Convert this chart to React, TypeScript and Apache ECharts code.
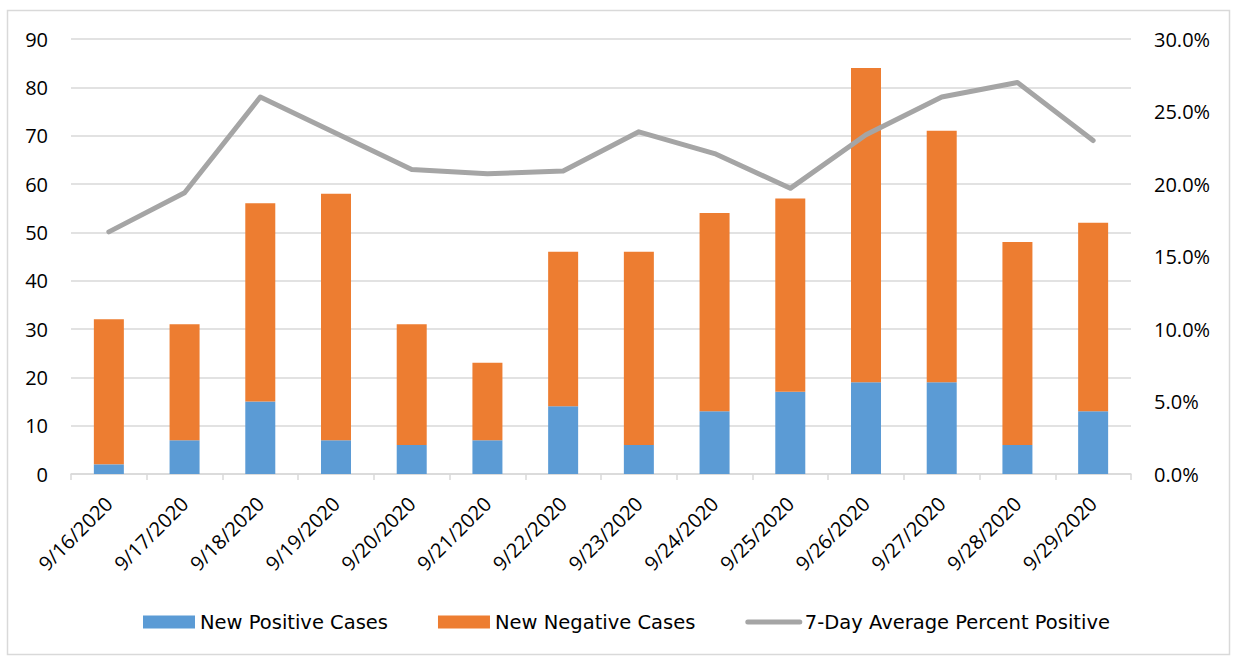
import React, { useEffect, useRef } from "react";
import * as echarts from "echarts";

const dates = ["9/16/2020","9/17/2020","9/18/2020","9/19/2020","9/20/2020","9/21/2020","9/22/2020","9/23/2020","9/24/2020","9/25/2020","9/26/2020","9/27/2020","9/28/2020","9/29/2020"];
const newPositive = [2, 7, 15, 7, 6, 7, 14, 6, 13, 17, 19, 19, 6, 13];
const newNegative = [30, 24, 41, 51, 25, 16, 32, 40, 41, 40, 65, 52, 42, 39];
const avgPercentPositive = [16.7, 19.4, 26.0, 23.5, 21.0, 20.7, 20.9, 23.6, 22.1, 19.7, 23.4, 26.0, 27.0, 23.0];

const FONT = "'Open Sans', 'Noto Sans', sans-serif";
const LEGEND_FONT = "'DejaVu Sans', 'Open Sans', sans-serif";

export default function App() {
  const ref = useRef<HTMLDivElement>(null);
  useEffect(() => {
    const chart = echarts.init(ref.current!, null, { renderer: "svg" });
    chart.setOption({
      animation: false,
      backgroundColor: "#ffffff",
      textStyle: { fontFamily: FONT },
      graphic: [
        {
          type: "rect",
          shape: { x: 7.5, y: 10.5, width: 1222, height: 644 },
          style: { fill: "none", stroke: "#d9d9d9", lineWidth: 1.5 },
          silent: true,
        },
      ],
      grid: { left: 71, right: 102, top: 39, bottom: 184, containLabel: false },
      legend: {
        bottom: 21,
        left: 138,
        itemGap: 50,
        itemWidth: 52,
        itemHeight: 13,
        textStyle: { fontSize: 19.5, color: "#000", fontFamily: LEGEND_FONT },
        data: [
          { name: "New Positive Cases", icon: "rect" },
          { name: "New Negative Cases", icon: "rect" },
          {
            name: "7-Day Average Percent Positive",
            itemStyle: { opacity: 0 },
            lineStyle: { color: "#A5A5A5", width: 5, cap: "round" },
          },
        ],
      },
      xAxis: {
        type: "category",
        data: dates,
        boundaryGap: true,
        axisLine: { lineStyle: { color: "#d9d9d9", width: 1.5 } },
        axisTick: { show: true, length: 6, lineStyle: { color: "#d9d9d9", width: 1.5 } },
        axisLabel: { rotate: 45, fontSize: 20, color: "#000", margin: 26, fontFamily: FONT },
      },
      yAxis: [
        {
          type: "value",
          min: 0,
          max: 90,
          interval: 10,
          axisLine: { show: false },
          axisTick: { show: false },
          splitLine: { lineStyle: { color: "#d9d9d9", width: 1.5 } },
          axisLabel: { fontSize: 20, color: "#000", margin: 23, fontFamily: FONT },
        },
        {
          type: "value",
          min: 0,
          max: 30,
          interval: 5,
          position: "right",
          axisLine: { show: false },
          axisTick: { show: false },
          splitLine: { show: false },
          axisLabel: {
            fontSize: 20,
            color: "#000",
            margin: 23,
            fontFamily: FONT,
            formatter: (v: number) => v.toFixed(1) + "%",
          },
        },
      ],
      series: [
        {
          name: "New Positive Cases",
          type: "bar",
          stack: "cases",
          barWidth: 30,
          data: newPositive,
          itemStyle: { color: "#5B9BD5" },
        },
        {
          name: "New Negative Cases",
          type: "bar",
          stack: "cases",
          barWidth: 30,
          data: newNegative,
          itemStyle: { color: "#ED7D31" },
        },
        {
          name: "7-Day Average Percent Positive",
          type: "line",
          yAxisIndex: 1,
          data: avgPercentPositive,
          symbol: "none",
          lineStyle: { color: "#A5A5A5", width: 5, cap: "round", join: "round" },
          itemStyle: { color: "#A5A5A5" },
        },
      ],
    });
    return () => chart.dispose();
  }, []);
  return (
    <div
      ref={ref}
      style={{ position: "absolute", left: 0, top: 0, width: 1233, height: 658 }}
    />
  );
}
